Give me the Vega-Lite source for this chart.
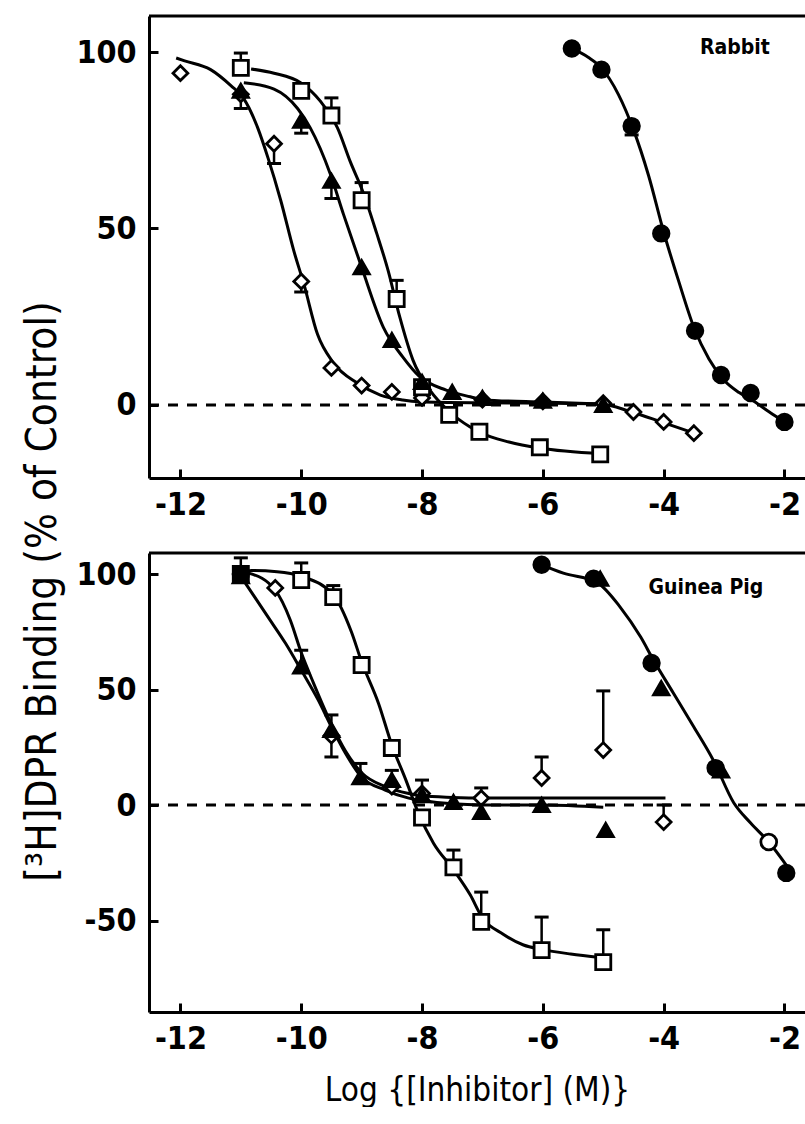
{
  "$schema": "https://vega.github.io/schema/vega-lite/v6.json",
  "padding": {"left": 20, "top": 14, "right": 0, "bottom": 0},
  "spacing": 75,
  "bounds": "flush",
  "background": "white",
  "datasets": {
    "rab_curve": [
      {"s":"D","x":-12.07,"y":98.3},{"s":"D","x":-11.93,"y":97.5},{"s":"D","x":-11.5,"y":95},{"s":"D","x":-11.16,"y":90.4},{"s":"D","x":-10.96,"y":87},{"s":"D","x":-10.72,"y":78.5},{"s":"D","x":-10.55,"y":70},{"s":"D","x":-10.34,"y":58},{"s":"D","x":-10.12,"y":43.5},{"s":"D","x":-9.96,"y":34.5},{"s":"D","x":-9.73,"y":20},{"s":"D","x":-9.47,"y":12},{"s":"D","x":-9.07,"y":6.2},{"s":"D","x":-8.69,"y":2.8},{"s":"D","x":-8.32,"y":1.4},{"s":"D","x":-8.04,"y":0.9},{"s":"D","x":-7,"y":0.6},{"s":"D","x":-6,"y":0.5},{"s":"D","x":-5.04,"y":0.3},{"s":"D","x":-4.53,"y":-2},{"s":"D","x":-4.04,"y":-4.8},{"s":"D","x":-3.51,"y":-7.9},
      {"s":"T","x":-10.95,"y":91.3},{"s":"T","x":-10.45,"y":89.5},{"s":"T","x":-10.06,"y":84},{"s":"T","x":-9.85,"y":78.5},{"s":"T","x":-9.52,"y":65.5},{"s":"T","x":-9.3,"y":54},{"s":"T","x":-9.0,"y":39},{"s":"T","x":-8.64,"y":22},{"s":"T","x":-8.32,"y":13.6},{"s":"T","x":-8.04,"y":8},{"s":"T","x":-7.6,"y":4.2},{"s":"T","x":-7.2,"y":2.3},{"s":"T","x":-7,"y":1.5},{"s":"T","x":-6,"y":0.8},{"s":"T","x":-5.04,"y":0.3},
      {"s":"S","x":-10.83,"y":95.2},{"s":"S","x":-10.45,"y":94},{"s":"S","x":-10.01,"y":91.3},{"s":"S","x":-9.68,"y":86},{"s":"S","x":-9.4,"y":78.5},{"s":"S","x":-9.19,"y":69},{"s":"S","x":-8.97,"y":60},{"s":"S","x":-8.75,"y":48.6},{"s":"S","x":-8.56,"y":38},{"s":"S","x":-8.37,"y":25},{"s":"S","x":-8.15,"y":12.7},{"s":"S","x":-7.87,"y":4.2},{"s":"S","x":-7.54,"y":-2},{"s":"S","x":-7.21,"y":-6.2},{"s":"S","x":-7.02,"y":-8},{"s":"S","x":-6.56,"y":-10.5},{"s":"S","x":-6.06,"y":-12.2},{"s":"S","x":-5.04,"y":-13.8},
      {"s":"C","x":-5.52,"y":101},{"s":"C","x":-5.25,"y":98.5},{"s":"C","x":-5.03,"y":95.5},{"s":"C","x":-4.75,"y":88},{"s":"C","x":-4.5,"y":78},{"s":"C","x":-4.25,"y":65},{"s":"C","x":-4.0,"y":49},{"s":"C","x":-3.75,"y":35},{"s":"C","x":-3.5,"y":22},{"s":"C","x":-3.25,"y":13},{"s":"C","x":-3.0,"y":7},{"s":"C","x":-2.75,"y":3.5},{"s":"C","x":-2.5,"y":1},{"s":"C","x":-2.25,"y":-2},{"s":"C","x":-2.0,"y":-4.8}
    ],
    "rab_pts": [
      {"s":"diamond","x":-12,"y":94},{"s":"diamond","x":-11,"y":88},{"s":"diamond","x":-10.45,"y":74},{"s":"diamond","x":-10,"y":35},{"s":"diamond","x":-9.5,"y":10.5},{"s":"diamond","x":-9,"y":5.5},{"s":"diamond","x":-8.5,"y":3.7},{"s":"diamond","x":-8,"y":2},{"s":"diamond","x":-7,"y":1.5},{"s":"diamond","x":-6,"y":1},{"s":"diamond","x":-5,"y":0.5},{"s":"diamond","x":-4.5,"y":-2},{"s":"diamond","x":-4,"y":-4.8},{"s":"diamond","x":-3.5,"y":-8},
      {"s":"square","x":-11,"y":95.5},{"s":"square","x":-10,"y":89},{"s":"square","x":-9.5,"y":82},{"s":"square","x":-9,"y":58},{"s":"square","x":-8.42,"y":30},{"s":"square","x":-8,"y":5},{"s":"square","x":-7.55,"y":-2.8},{"s":"square","x":-7.05,"y":-7.6},{"s":"square","x":-6.05,"y":-12},{"s":"square","x":-5.05,"y":-14},
      {"s":"triangle","x":-11,"y":89},{"s":"triangle","x":-10,"y":80.5},{"s":"triangle","x":-9.5,"y":63.5},{"s":"triangle","x":-9,"y":39},{"s":"triangle","x":-8.5,"y":18.4},{"s":"triangle","x":-8,"y":6.5},{"s":"triangle","x":-7.5,"y":3.7},{"s":"triangle","x":-7,"y":2},{"s":"triangle","x":-6,"y":1.2},{"s":"triangle","x":-5,"y":0},
      {"s":"circle","x":-5.52,"y":101},{"s":"circle","x":-5.03,"y":95},{"s":"circle","x":-4.53,"y":79},{"s":"circle","x":-4.04,"y":48.6},{"s":"circle","x":-3.48,"y":21},{"s":"circle","x":-3.05,"y":8.5},{"s":"circle","x":-2.56,"y":3.4},{"s":"circle","x":-2.0,"y":-4.8}
    ],
    "rab_err": [
      {"x":-11,"y":95.5,"e":99.7},{"x":-11,"y":89,"e":84},{"x":-10.45,"y":74,"e":68.4},{"x":-10,"y":80.5,"e":77},{"x":-10,"y":35,"e":32},{"x":-9.5,"y":82,"e":87},{"x":-9.5,"y":63.5,"e":58.5},{"x":-9,"y":58,"e":63},{"x":-8.42,"y":30,"e":35.3},{"x":-4.53,"y":79,"e":76.5}
    ],
    "rab_lbl": [{"t":"Rabbit","x":-2.82,"y":101}],
    "gp_curve": [
      {"s":"L","x":-11,"y":99},{"s":"L","x":-10.54,"y":81},{"s":"L","x":-10.26,"y":70},{"s":"L","x":-10,"y":58.4},{"s":"L","x":-9.72,"y":45.5},{"s":"L","x":-9.5,"y":33.8},{"s":"L","x":-9.27,"y":22.5},{"s":"L","x":-9,"y":12},{"s":"L","x":-8.61,"y":6.5},{"s":"L","x":-8.22,"y":3},{"s":"L","x":-8,"y":2},{"s":"L","x":-7.5,"y":0.5},{"s":"L","x":-7,"y":0},{"s":"L","x":-6,"y":0},{"s":"L","x":-5,"y":-1},
      {"s":"D","x":-11,"y":101},{"s":"D","x":-10.87,"y":100.4},{"s":"D","x":-10.43,"y":93},{"s":"D","x":-10.18,"y":80},{"s":"D","x":-10,"y":66},{"s":"D","x":-9.8,"y":53},{"s":"D","x":-9.5,"y":35},{"s":"D","x":-9.27,"y":23.5},{"s":"D","x":-9,"y":14},{"s":"D","x":-8.61,"y":8},{"s":"D","x":-8.22,"y":5},{"s":"D","x":-8,"y":4},{"s":"D","x":-7.5,"y":3.3},{"s":"D","x":-7,"y":3},{"s":"D","x":-6,"y":3},{"s":"D","x":-5,"y":3},{"s":"D","x":-3.97,"y":3},
      {"s":"S","x":-11,"y":100.5},{"s":"S","x":-10.82,"y":101.5},{"s":"S","x":-10.4,"y":101},{"s":"S","x":-10,"y":99},{"s":"S","x":-9.47,"y":91},{"s":"S","x":-9.17,"y":75},{"s":"S","x":-9,"y":62},{"s":"S","x":-8.72,"y":44},{"s":"S","x":-8.5,"y":26},{"s":"S","x":-8.27,"y":11},{"s":"S","x":-8.06,"y":-3.5},{"s":"S","x":-7.81,"y":-16.5},{"s":"S","x":-7.48,"y":-28},{"s":"S","x":-7.2,"y":-39},{"s":"S","x":-7.02,"y":-48},{"s":"S","x":-6.65,"y":-56},{"s":"S","x":-6.32,"y":-60.6},{"s":"S","x":-6.02,"y":-62.5},{"s":"S","x":-5.54,"y":-64.5},{"s":"S","x":-5.05,"y":-66},
      {"s":"C","x":-6.02,"y":104},{"s":"C","x":-5.66,"y":100.4},{"s":"C","x":-5.11,"y":96.5},{"s":"C","x":-4.72,"y":85.7},{"s":"C","x":-4.38,"y":72.7},{"s":"C","x":-4.17,"y":62.8},{"s":"C","x":-3.84,"y":48.5},{"s":"C","x":-3.5,"y":33.8},{"s":"C","x":-3.18,"y":19.5},{"s":"C","x":-2.84,"y":1},{"s":"C","x":-2.56,"y":-7.8},{"s":"C","x":-2.26,"y":-16},{"s":"C","x":-1.97,"y":-26}
    ],
    "gp_pts": [
      {"s":"diamond","x":-10.43,"y":94},{"s":"diamond","x":-9.5,"y":30},{"s":"diamond","x":-8.5,"y":8},{"s":"diamond","x":-8,"y":5},{"s":"diamond","x":-7.02,"y":3},{"s":"diamond","x":-6.02,"y":11.7},{"s":"diamond","x":-5.0,"y":23.8},{"s":"diamond","x":-4.0,"y":-7.4},
      {"s":"square","x":-11,"y":100},{"s":"square","x":-10,"y":97.4},{"s":"square","x":-9.47,"y":90},{"s":"square","x":-9,"y":60.6},{"s":"square","x":-8.5,"y":24.7},{"s":"square","x":-8,"y":-5.4},{"s":"square","x":-7.48,"y":-27},{"s":"square","x":-7.02,"y":-50.6},{"s":"square","x":-6.02,"y":-62.8},{"s":"square","x":-5.0,"y":-68},
      {"s":"triangle","x":-11,"y":99},{"s":"triangle","x":-10,"y":60},{"s":"triangle","x":-9.5,"y":32.5},{"s":"triangle","x":-9.02,"y":12},{"s":"triangle","x":-8.5,"y":10.8},{"s":"triangle","x":-8,"y":4.3},{"s":"triangle","x":-7.48,"y":1.3},{"s":"triangle","x":-7.02,"y":-3},{"s":"triangle","x":-6.02,"y":0},{"s":"triangle","x":-4.96,"y":-10.8},{"s":"triangle","x":-5.05,"y":98},{"s":"triangle","x":-4.04,"y":50.6},{"s":"triangle","x":-3.05,"y":15},
      {"s":"circle","x":-11,"y":100},{"s":"circle","x":-6.02,"y":104},{"s":"circle","x":-5.16,"y":98},{"s":"circle","x":-4.2,"y":61.5},{"s":"circle","x":-3.14,"y":16},{"s":"circle","x":-1.97,"y":-29.4},
      {"s":"ocircle","x":-2.26,"y":-16}
    ],
    "gp_err": [
      {"x":-11,"y":99,"e":107},{"x":-10,"y":97.4,"e":104.8},{"x":-9.47,"y":90,"e":95},{"x":-10,"y":60,"e":67},{"x":-9.5,"y":32.5,"e":39},{"x":-9.5,"y":32.5,"e":20.8},{"x":-9.02,"y":12,"e":18},{"x":-8.5,"y":10.8,"e":15},{"x":-8,"y":4.3,"e":10.8},{"x":-7.48,"y":-27,"e":-19.5},{"x":-7.02,"y":3,"e":7.4},{"x":-7.02,"y":-50.6,"e":-37.7},{"x":-6.02,"y":11.7,"e":20.8},{"x":-6.02,"y":-62.8,"e":-48.5},{"x":-5.0,"y":23.8,"e":49.4},{"x":-5.0,"y":-68,"e":-54},{"x":-4.0,"y":-7.4,"e":0}
    ],
    "gp_lbl": [{"t":"Guinea Pig","x":-3.3,"y":94}]
  },
  "resolve": {"scale": {"x": "independent", "y": "independent"}},
  "vconcat": [
    {
      "width": 656,
      "height": 462,
      "layer": [
        {
          "data": {"values": [{}]},
          "mark": {"type": "rule", "strokeWidth": 3, "color": "black"},
          "encoding": {"y": {"datum": 110.2, "type": "quantitative", "scale": {"domain": [-20.7, 110.2], "nice": false, "zero": false}, "axis": {"values": [0, 50, 100], "title": null, "labelExpr": "toString(datum.value)", "labelPadding": 22}}}
        },
        {
          "data": {"values": [{}]},
          "mark": {"type": "rule", "strokeWidth": 3, "strokeDash": [10, 9], "color": "black"},
          "encoding": {"y": {"datum": 0, "type": "quantitative", "scale": {"domain": [-20.7, 110.2], "nice": false, "zero": false}, "axis": {"values": [0, 50, 100], "title": null, "labelExpr": "toString(datum.value)", "labelPadding": 22}}}
        },
        {
          "data": {"name": "rab_curve"},
          "mark": {"type": "line", "interpolate": "monotone", "strokeWidth": 3, "color": "black"},
          "encoding": {
            "x": {"field": "x", "type": "quantitative", "scale": {"domain": [-12.52, -1.66], "nice": false, "zero": false}, "axis": {"values": [-12, -10, -8, -6, -4, -2], "title": null, "labelExpr": "toString(datum.value)", "labelPadding": 20}},
            "y": {"field": "y", "type": "quantitative", "scale": {"domain": [-20.7, 110.2], "nice": false, "zero": false}, "axis": {"values": [0, 50, 100], "title": null, "labelExpr": "toString(datum.value)", "labelPadding": 22}},
            "detail": {"field": "s"}
          }
        },
        {
          "data": {"name": "rab_err"},
          "mark": {"type": "rule", "strokeWidth": 2.5, "color": "black"},
          "encoding": {
            "x": {"field": "x", "type": "quantitative", "scale": {"domain": [-12.52, -1.66], "nice": false, "zero": false}, "axis": {"values": [-12, -10, -8, -6, -4, -2], "title": null, "labelExpr": "toString(datum.value)", "labelPadding": 20}},
            "y": {"field": "y", "type": "quantitative", "scale": {"domain": [-20.7, 110.2], "nice": false, "zero": false}, "axis": {"values": [0, 50, 100], "title": null, "labelExpr": "toString(datum.value)", "labelPadding": 22}},
            "y2": {"field": "e"}
          }
        },
        {
          "data": {"name": "rab_err"},
          "mark": {"type": "tick", "orient": "horizontal", "size": 14, "thickness": 3, "color": "black", "opacity": 1},
          "encoding": {
            "x": {"field": "x", "type": "quantitative", "scale": {"domain": [-12.52, -1.66], "nice": false, "zero": false}, "axis": {"values": [-12, -10, -8, -6, -4, -2], "title": null, "labelExpr": "toString(datum.value)", "labelPadding": 20}},
            "y": {"field": "e", "type": "quantitative", "scale": {"domain": [-20.7, 110.2], "nice": false, "zero": false}, "axis": {"values": [0, 50, 100], "title": null, "labelExpr": "toString(datum.value)", "labelPadding": 22}}
          }
        },
        {
          "data": {"name": "rab_pts"},
          "mark": {"type": "point", "filled": true, "stroke": "black", "strokeWidth": 2.8, "opacity": 1},
          "encoding": {
            "x": {"field": "x", "type": "quantitative", "scale": {"domain": [-12.52, -1.66], "nice": false, "zero": false}, "axis": {"values": [-12, -10, -8, -6, -4, -2], "title": null, "labelExpr": "toString(datum.value)", "labelPadding": 20}},
            "y": {"field": "y", "type": "quantitative", "scale": {"domain": [-20.7, 110.2], "nice": false, "zero": false}, "axis": {"values": [0, 50, 100], "title": null, "labelExpr": "toString(datum.value)", "labelPadding": 22}},
            "shape": {"field": "s", "type": "nominal", "scale": {"domain": ["diamond", "square", "triangle", "circle", "ocircle"], "range": ["diamond", "square", "triangle-up", "circle", "circle"]}, "legend": null},
            "fill": {"field": "s", "type": "nominal", "scale": {"domain": ["diamond", "square", "triangle", "circle", "ocircle"], "range": ["white", "white", "black", "black", "white"]}, "legend": null},
            "size": {"field": "s", "type": "ordinal", "scale": {"domain": ["diamond", "square", "triangle", "circle", "ocircle"], "range": [220, 250, 260, 300, 190]}, "legend": null}
          }
        },
        {
          "data": {"name": "rab_lbl"},
          "mark": {"type": "text", "font": "DejaVu Sans Condensed, DejaVu Sans, sans-serif", "fontSize": 21, "fontWeight": "bold", "color": "black", "align": "center", "baseline": "middle"},
          "encoding": {
            "x": {"field": "x", "type": "quantitative", "scale": {"domain": [-12.52, -1.66], "nice": false, "zero": false}, "axis": {"values": [-12, -10, -8, -6, -4, -2], "title": null, "labelExpr": "toString(datum.value)", "labelPadding": 20}},
            "y": {"field": "y", "type": "quantitative", "scale": {"domain": [-20.7, 110.2], "nice": false, "zero": false}, "axis": {"values": [0, 50, 100], "title": null, "labelExpr": "toString(datum.value)", "labelPadding": 22}},
            "text": {"field": "t"}
          }
        }
      ]
    },
    {
      "width": 656,
      "height": 459,
      "layer": [
        {
          "data": {"values": [{}]},
          "mark": {"type": "rule", "strokeWidth": 3, "color": "black"},
          "encoding": {"y": {"datum": 109.1, "type": "quantitative", "scale": {"domain": [-89.6, 109.1], "nice": false, "zero": false}, "axis": {"values": [-50, 0, 50, 100], "labelExpr": "toString(datum.value)", "labelPadding": 22, "title": "[³H]DPR Binding (% of Control)", "titleX": -107, "titleY": 38, "titleAngle": -90, "titleAlign": "center", "titleBaseline": "middle", "titleFontSize": 42}}}
        },
        {
          "data": {"values": [{}]},
          "mark": {"type": "rule", "strokeWidth": 3, "strokeDash": [10, 9], "color": "black"},
          "encoding": {"y": {"datum": 0, "type": "quantitative", "scale": {"domain": [-89.6, 109.1], "nice": false, "zero": false}, "axis": {"values": [-50, 0, 50, 100], "labelExpr": "toString(datum.value)", "labelPadding": 22, "title": "[³H]DPR Binding (% of Control)", "titleX": -107, "titleY": 38, "titleAngle": -90, "titleAlign": "center", "titleBaseline": "middle", "titleFontSize": 42}}}
        },
        {
          "data": {"name": "gp_curve"},
          "mark": {"type": "line", "interpolate": "monotone", "strokeWidth": 3, "color": "black"},
          "encoding": {
            "x": {"field": "x", "type": "quantitative", "scale": {"domain": [-12.52, -1.66], "nice": false, "zero": false}, "axis": {"values": [-12, -10, -8, -6, -4, -2], "labelExpr": "toString(datum.value)", "labelPadding": 20, "title": "Log {[Inhibitor] (M)}", "titleY": 78, "titleBaseline": "middle", "titleFontSize": 33}},
            "y": {"field": "y", "type": "quantitative", "scale": {"domain": [-89.6, 109.1], "nice": false, "zero": false}, "axis": {"values": [-50, 0, 50, 100], "labelExpr": "toString(datum.value)", "labelPadding": 22, "title": "[³H]DPR Binding (% of Control)", "titleX": -107, "titleY": 38, "titleAngle": -90, "titleAlign": "center", "titleBaseline": "middle", "titleFontSize": 42}},
            "detail": {"field": "s"}
          }
        },
        {
          "data": {"name": "gp_err"},
          "mark": {"type": "rule", "strokeWidth": 2.5, "color": "black"},
          "encoding": {
            "x": {"field": "x", "type": "quantitative", "scale": {"domain": [-12.52, -1.66], "nice": false, "zero": false}, "axis": {"values": [-12, -10, -8, -6, -4, -2], "labelExpr": "toString(datum.value)", "labelPadding": 20, "title": "Log {[Inhibitor] (M)}", "titleY": 78, "titleBaseline": "middle", "titleFontSize": 33}},
            "y": {"field": "y", "type": "quantitative", "scale": {"domain": [-89.6, 109.1], "nice": false, "zero": false}, "axis": {"values": [-50, 0, 50, 100], "labelExpr": "toString(datum.value)", "labelPadding": 22, "title": "[³H]DPR Binding (% of Control)", "titleX": -107, "titleY": 38, "titleAngle": -90, "titleAlign": "center", "titleBaseline": "middle", "titleFontSize": 42}},
            "y2": {"field": "e"}
          }
        },
        {
          "data": {"name": "gp_err"},
          "mark": {"type": "tick", "orient": "horizontal", "size": 14, "thickness": 3, "color": "black", "opacity": 1},
          "encoding": {
            "x": {"field": "x", "type": "quantitative", "scale": {"domain": [-12.52, -1.66], "nice": false, "zero": false}, "axis": {"values": [-12, -10, -8, -6, -4, -2], "labelExpr": "toString(datum.value)", "labelPadding": 20, "title": "Log {[Inhibitor] (M)}", "titleY": 78, "titleBaseline": "middle", "titleFontSize": 33}},
            "y": {"field": "e", "type": "quantitative", "scale": {"domain": [-89.6, 109.1], "nice": false, "zero": false}, "axis": {"values": [-50, 0, 50, 100], "labelExpr": "toString(datum.value)", "labelPadding": 22, "title": "[³H]DPR Binding (% of Control)", "titleX": -107, "titleY": 38, "titleAngle": -90, "titleAlign": "center", "titleBaseline": "middle", "titleFontSize": 42}}
          }
        },
        {
          "data": {"name": "gp_pts"},
          "mark": {"type": "point", "filled": true, "stroke": "black", "strokeWidth": 2.8, "opacity": 1},
          "encoding": {
            "x": {"field": "x", "type": "quantitative", "scale": {"domain": [-12.52, -1.66], "nice": false, "zero": false}, "axis": {"values": [-12, -10, -8, -6, -4, -2], "labelExpr": "toString(datum.value)", "labelPadding": 20, "title": "Log {[Inhibitor] (M)}", "titleY": 78, "titleBaseline": "middle", "titleFontSize": 33}},
            "y": {"field": "y", "type": "quantitative", "scale": {"domain": [-89.6, 109.1], "nice": false, "zero": false}, "axis": {"values": [-50, 0, 50, 100], "labelExpr": "toString(datum.value)", "labelPadding": 22, "title": "[³H]DPR Binding (% of Control)", "titleX": -107, "titleY": 38, "titleAngle": -90, "titleAlign": "center", "titleBaseline": "middle", "titleFontSize": 42}},
            "shape": {"field": "s", "type": "nominal", "scale": {"domain": ["diamond", "square", "triangle", "circle", "ocircle"], "range": ["diamond", "square", "triangle-up", "circle", "circle"]}, "legend": null},
            "fill": {"field": "s", "type": "nominal", "scale": {"domain": ["diamond", "square", "triangle", "circle", "ocircle"], "range": ["white", "white", "black", "black", "white"]}, "legend": null},
            "size": {"field": "s", "type": "ordinal", "scale": {"domain": ["diamond", "square", "triangle", "circle", "ocircle"], "range": [220, 250, 260, 300, 190]}, "legend": null}
          }
        },
        {
          "data": {"name": "gp_lbl"},
          "mark": {"type": "text", "font": "DejaVu Sans Condensed, DejaVu Sans, sans-serif", "fontSize": 21, "fontWeight": "bold", "color": "black", "align": "center", "baseline": "middle"},
          "encoding": {
            "x": {"field": "x", "type": "quantitative", "scale": {"domain": [-12.52, -1.66], "nice": false, "zero": false}, "axis": {"values": [-12, -10, -8, -6, -4, -2], "labelExpr": "toString(datum.value)", "labelPadding": 20, "title": "Log {[Inhibitor] (M)}", "titleY": 78, "titleBaseline": "middle", "titleFontSize": 33}},
            "y": {"field": "y", "type": "quantitative", "scale": {"domain": [-89.6, 109.1], "nice": false, "zero": false}, "axis": {"values": [-50, 0, 50, 100], "labelExpr": "toString(datum.value)", "labelPadding": 22, "title": "[³H]DPR Binding (% of Control)", "titleX": -107, "titleY": 38, "titleAngle": -90, "titleAlign": "center", "titleBaseline": "middle", "titleFontSize": 42}},
            "text": {"field": "t"}
          }
        }
      ]
    }
  ],
  "config": {
    "view": {"stroke": null},
    "font": "DejaVu Sans Condensed, DejaVu Sans, sans-serif",
    "axis": {
      "grid": false,
      "domainColor": "black",
      "domainWidth": 3,
      "tickColor": "black",
      "tickWidth": 3,
      "tickSize": -9,
      "labelFont": "DejaVu Sans Condensed, DejaVu Sans, sans-serif",
      "labelFontSize": 32,
      "labelFontWeight": "bold",
      "labelColor": "black",
      "titleFont": "DejaVu Sans Condensed, DejaVu Sans, sans-serif",
      "titleFontWeight": "normal",
      "titleColor": "black"
    }
  }
}
